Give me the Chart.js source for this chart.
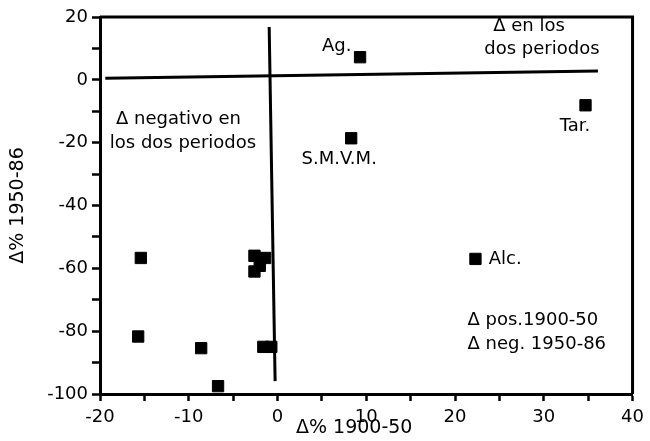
<!DOCTYPE html>
<html>
<head>
<meta charset="utf-8">
<script src="https://cdn.jsdelivr.net/npm/chart.js@4"></script>
<style>
  html, body { margin: 0; padding: 0; background: #fff; }
  #wrap { width: 650px; height: 441px; }
</style>
</head>
<body>
<div id="wrap"><canvas id="scatter"></canvas></div>
<script>
// Δ% 1900-50 (x) against Δ% 1950-86 (y), one value per municipality
const changeEarly = [9.3, 34.7, 8.3, 22.3, -15.4, -15.7, -8.6, -6.7, -1.6, -0.7, -2.6, -1.4, -2.0, -2.6];
const changeLate  = [7.2, -8.1, -18.6, -57.0, -56.7, -81.7, -85.4, -97.5, -85.0, -85.0, -56.0, -56.7, -59.2, -61.0];

// quadrant dividers, as drawn (slightly skewed in the original)
const vDividerX = [-0.94, -0.27];
const vDividerY = [16.8, -95.9];
const hDividerX = [-19.4, 36.1];
const hDividerY = [0.5, 2.8];

const xTicks = [-20, -10, 0, 10, 20, 30, 40];
const yTicks = [20, 0, -20, -40, -60, -80, -100];

// text notes inside the plot, anchored in data units (left edge, middle)
const noteTexts = ['Δ en los', 'dos periodos', 'Δ negativo en', 'los dos periodos',
  'Ag.', 'S.M.V.M.', 'Tar.', 'Alc.', 'Δ pos.1900-50', 'Δ neg. 1950-86'];
const noteX = [24.3, 23.3, -18.2, -18.9, 5.0, 2.7, 31.8, 23.8, 21.4, 21.4];
const noteY = [17.1, 9.6, -12.6, -20.2, 10.7, -25.3, -14.8, -57.2, -76.7, -84.1];

const FONT = '"DejaVu Sans", sans-serif';

const points = changeEarly.map((v, i) => ({ x: v, y: changeLate[i] }));
const toXY = (xs, ys) => xs.map((v, i) => ({ x: v, y: ys[i] }));

const frameAndNotes = {
  id: 'frameAndNotes',
  afterDatasetsDraw(chart) {
    const { ctx, chartArea: a, scales: { x, y } } = chart;
    ctx.save();
    ctx.strokeStyle = '#000';
    ctx.lineWidth = 3;
    ctx.beginPath();
    ctx.moveTo(a.left, a.top);
    ctx.lineTo(a.right, a.top);
    ctx.lineTo(a.right, a.bottom);
    ctx.stroke();

    ctx.fillStyle = '#000';
    ctx.font = '18px ' + FONT;
    ctx.textBaseline = 'middle';
    ctx.textAlign = 'left';
    noteTexts.forEach((t, i) => {
      ctx.fillText(t, x.getPixelForValue(noteX[i]), y.getPixelForValue(noteY[i]));
    });
    ctx.restore();
  }
};

const ctx = document.getElementById('scatter').getContext('2d');
const myChart = new Chart(ctx, {
  type: 'scatter',
  data: {
    datasets: [
      {
        label: 'municipios',
        data: points,
        pointStyle: 'rect',
        pointRadius: 8,
        borderWidth: 1,
        backgroundColor: '#000',
        borderColor: '#000'
      },
      {
        label: 'v',
        data: toXY(vDividerX, vDividerY),
        showLine: true,
        pointRadius: 0,
        borderColor: '#000',
        borderWidth: 3
      },
      {
        label: 'h',
        data: toXY(hDividerX, hDividerY),
        showLine: true,
        pointRadius: 0,
        borderColor: '#000',
        borderWidth: 3
      }
    ]
  },
  options: {
    responsive: true,
    maintainAspectRatio: false,
    animation: false,
    layout: { padding: { top: 17, right: 14, left: 0, bottom: 0 }, autoPadding: false },
    plugins: { legend: { display: false }, tooltip: { enabled: false } },
    scales: {
      x: {
        type: 'linear',
        min: -20,
        max: 40,
        border: { color: '#000', width: 3 },
        grid: { drawOnChartArea: false, tickLength: 7, tickColor: '#000', tickWidth: 2.5 },
        ticks: {
          stepSize: 5,
          autoSkip: false,
          maxRotation: 0,
          padding: 6,
          color: '#000',
          font: { family: FONT, size: 18 },
          callback: v => xTicks.includes(v) ? String(v) : ''
        },
        title: {
          display: true,
          text: 'Δ% 1900-50    ',
          color: '#000',
          font: { family: FONT, size: 19 },
          padding: { top: 0, bottom: 2 }
        },
        afterFit(s) { s.height = 47; }
      },
      y: {
        type: 'linear',
        min: -100,
        max: 20,
        border: { color: '#000', width: 3 },
        grid: { drawOnChartArea: false, tickLength: 8, tickColor: '#000', tickWidth: 2.5 },
        ticks: {
          stepSize: 10,
          autoSkip: false,
          padding: 4,
          color: '#000',
          font: { family: FONT, size: 18 },
          callback: v => yTicks.includes(v) ? String(v) : ''
        },
        title: {
          display: true,
          text: 'Δ% 1950-86',
          color: '#000',
          font: { family: FONT, size: 19 },
          padding: { top: 7, bottom: 0 }
        },
        afterFit(s) { s.width = 100; }
      }
    }
  },
  plugins: [frameAndNotes]
});
</script>
</body>
</html>
